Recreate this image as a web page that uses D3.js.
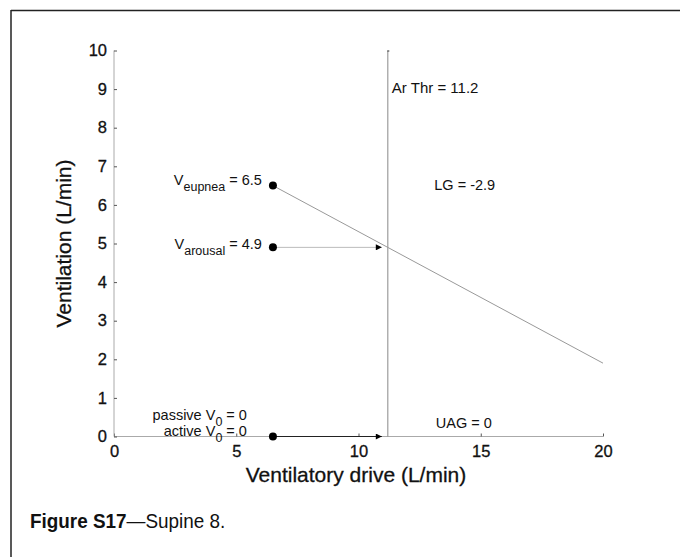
<!DOCTYPE html>
<html><head><meta charset="utf-8">
<script src="https://cdn.jsdelivr.net/npm/d3@7/dist/d3.min.js"></script>
<style>
body{margin:0;background:#fff;}
svg{display:block;}
text{font-family:"Liberation Sans",Arial,sans-serif;fill:#111;}
.heavy{stroke:#111;stroke-width:0.3px;}
</style></head><body>
<svg id="c" width="680" height="557"></svg>
<script>
// ---- data ----
const xTicks = [0, 5, 10, 15, 20];
const yTicks = [0, 1, 2, 3, 4, 5, 6, 7, 8, 9, 10];
const xDomain = [0, 20];
const yDomain = [0, 10];
const arThr = 11.2;
const vEupnea = 6.5;
const vArousal = 4.9;
const drivePoint = 6.5;      // x location of the dots
const loopLine = [[6.5, 6.5], [20, 1.9]];
const dots = [[6.5, 6.5], [6.5, 4.9], [6.5, 0]];
const LG = -2.9, UAG = 0, passiveV0 = 0, activeV0 = 0;

const svg = d3.select("#c");
const x = d3.scaleLinear().domain(xDomain).range([114, 603]);
const y = d3.scaleLinear().domain(yDomain).range([436.5, 50.5]);

// frame
svg.append("line").attr("x1",11).attr("x2",680).attr("y1",10.5).attr("y2",10.5).attr("stroke","#222").attr("stroke-width",1.5);
svg.append("line").attr("x1",11).attr("x2",11).attr("y1",10).attr("y2",557).attr("stroke","#222").attr("stroke-width",1.5);

// axes
const gx = svg.append("g").attr("transform",`translate(0,${y(0)})`)
  .call(d3.axisBottom(x).tickValues(xTicks).tickSize(-3).tickPadding(6).tickFormat(d3.format("d")));
const gy = svg.append("g").attr("transform",`translate(${x(0)},0)`)
  .call(d3.axisLeft(y).tickValues(yTicks).tickSize(-3).tickPadding(6).tickFormat(d3.format("d")));
[gx, gy].forEach(g=>{
  g.select(".domain").attr("stroke","#aaa");
  g.selectAll(".tick line").attr("stroke","#555");
  g.selectAll(".tick text").attr("font-size",16.5).attr("fill","#111").attr("class","heavy")
    .attr("font-family","\"Liberation Sans\",Arial,sans-serif");
});
gy.select(".domain").attr("d",`M0,${y(0)}V${y(10)}`);
gx.select(".domain").attr("d",`M${x(0)},0H${x(20)}`);
gx.selectAll(".tick text").attr("dy","0.9em");
gy.selectAll(".tick text").attr("dx","-1");

// arousal threshold vertical line
svg.append("line").attr("x1",x(arThr)).attr("x2",x(arThr)).attr("y1",y(10)).attr("y2",y(0))
  .attr("stroke","#888").attr("stroke-width",1);
svg.append("line").attr("x1",x(arThr)-0.5).attr("x2",x(arThr)+1.5).attr("y1",y(10)+0.5).attr("y2",y(10)+0.5)
  .attr("stroke","#333").attr("stroke-width",1);

// loop gain line
svg.append("path").datum(loopLine)
  .attr("d",d3.line().x(d=>x(d[0])).y(d=>y(d[1])))
  .attr("stroke","#999").attr("stroke-width",1).attr("fill","none");

// arrows
const defs = svg.append("defs");
defs.append("marker").attr("id","ah").attr("viewBox","0 0 10 10").attr("refX",10).attr("refY",5)
  .attr("markerWidth",7).attr("markerHeight",6).attr("markerUnits","userSpaceOnUse").attr("orient","auto")
  .append("path").attr("d","M0,0L10,5L0,10Z").attr("fill","#000");
svg.append("line").attr("x1",x(drivePoint)).attr("x2",x(arThr)-6).attr("y1",y(vArousal)).attr("y2",y(vArousal))
  .attr("stroke","#bbb").attr("stroke-width",1).attr("marker-end","url(#ah)");
svg.append("line").attr("x1",x(drivePoint)).attr("x2",x(arThr)-6).attr("y1",y(0)).attr("y2",y(0))
  .attr("stroke","#222").attr("stroke-width",1).attr("marker-end","url(#ah)");

// dots
svg.selectAll("circle.pt").data(dots).join("circle").attr("class","pt")
  .attr("cx",d=>x(d[0])).attr("cy",d=>y(d[1])).attr("r",4).attr("fill","#000");

// annotations
const aFs = 14.5;
function sub(t, main, subTxt, rest){
  t.append("tspan").text(main);
  t.append("tspan").attr("font-size",12.5).attr("dy",6).text(subTxt);
  t.append("tspan").attr("dy",-6).text(rest);
}
let t = svg.append("text").attr("x",x(drivePoint)-11).attr("y",y(vEupnea)-1).attr("text-anchor","end").attr("font-size",aFs);
sub(t,"V","eupnea"," = " + vEupnea);
t = svg.append("text").attr("x",x(drivePoint)-11).attr("y",y(vArousal)+2).attr("text-anchor","end").attr("font-size",aFs);
sub(t,"V","arousal"," = " + vArousal);
t = svg.append("text").attr("x",x(drivePoint)-26).attr("y",y(0)-17).attr("text-anchor","end").attr("font-size",aFs);
sub(t,"passive V","0"," = " + passiveV0);
t = svg.append("text").attr("x",x(drivePoint)-26).attr("y",y(0)-1).attr("text-anchor","end").attr("font-size",aFs);
sub(t,"active V","0"," = " + activeV0);

svg.append("text").attr("x",x(arThr)+4).attr("y",y(8.9)).attr("font-size",15).text("Ar Thr = " + arThr);
svg.append("text").attr("x",x(13.1)).attr("y",y(6.39)).attr("font-size",aFs).text("LG = " + LG);
svg.append("text").attr("x",x(13.16)).attr("y",y(0.22)).attr("font-size",aFs).text("UAG = " + UAG);

// axis titles
svg.append("text").attr("class","heavy").attr("x",356).attr("y",482).attr("text-anchor","middle")
  .attr("font-size",21).text("Ventilatory drive (L/min)");
svg.append("text").attr("class","heavy").attr("transform",`translate(71,${(y(0)+y(10))/2}) rotate(-90)`)
  .attr("text-anchor","middle").attr("font-size",21).text("Ventilation (L/min)");

// caption
const cap = svg.append("text").attr("transform","translate(30,528) scale(0.9,1)").attr("font-size",21);
cap.append("tspan").attr("font-weight","bold").text("Figure S17");
cap.append("tspan").text("\u2014Supine 8.");
</script>
</body></html>
